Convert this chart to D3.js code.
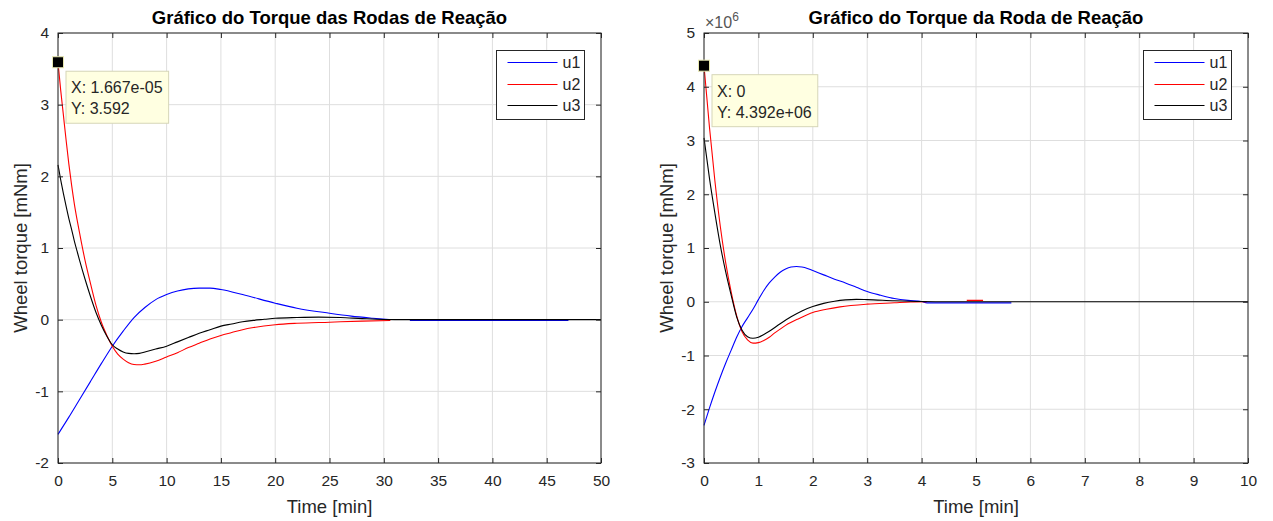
<!DOCTYPE html>
<html>
<head>
<meta charset="utf-8">
<script src="https://cdn.jsdelivr.net/npm/d3@7"></script>
<style>
  body { margin: 0; background: #fff; }
  svg { font-family: "Liberation Sans", Arial, sans-serif; }
</style>
</head>
<body>
<svg id="chart" width="1273" height="521"></svg>
<script>
// ---- data (time in minutes, torque in mNm) ----
const seriesNames = ['u1', 'u2', 'u3'];
const seriesColors = ['#0000ff', '#ff0000', '#000000'];

const leftTitle = 'Gráfico do Torque das Rodas de Reação';
const leftXTicks = [0, 5, 10, 15, 20, 25, 30, 35, 40, 45, 50];
const leftYTicks = [-2, -1, 0, 1, 2, 3, 4];

// null = break in the line
const leftU1 = [[0,-1.6],[1,-1.36],[2,-1.11],[3,-0.86],[4,-0.61],[5,-0.37],[6,-0.16],[7,0.03],[8,0.17],
  [9,0.28],[10,0.35],[11,0.4],[12,0.43],[13,0.44],[14,0.44],[15,0.42],[17,0.35],[20,0.23],[22,0.16],
  [25,0.09],[27,0.05],[29,0.02],[30.5,0.0],[31,null],[32.4,-0.01],[47,-0.01]];
const leftU2 = [[0,3.59],[0.25,3.2],[0.5,2.85],[0.75,2.5],[1,2.17],[1.25,1.88],[1.5,1.62],[1.75,1.4],
  [2,1.2],[2.5,0.82],[3,0.5],[3.5,0.2],[4,-0.04],[4.5,-0.22],[5,-0.37],[5.5,-0.48],[6,-0.55],[6.5,-0.6],
  [7,-0.625],[7.5,-0.63],[8,-0.62],[9,-0.58],[10,-0.52],[11,-0.46],[12,-0.39],[13,-0.33],[14,-0.27],
  [15,-0.22],[16,-0.18],[17,-0.14],[18,-0.11],[20,-0.07],[22,-0.05],[25,-0.035],[28,-0.02],[30.6,-0.012]];
const leftU3 = [[0,2.16],[0.25,1.95],[0.5,1.76],[0.75,1.58],[1,1.41],[1.25,1.26],[1.5,1.1],[1.75,0.96],
  [2,0.82],[2.5,0.56],[3,0.32],[3.5,0.1],[4,-0.08],[4.5,-0.23],[5,-0.35],[5.5,-0.41],[6,-0.45],
  [6.5,-0.47],[7,-0.475],[7.5,-0.47],[8,-0.45],[9,-0.41],[10,-0.37],[11,-0.31],[12,-0.25],[13,-0.19],
  [14,-0.14],[15,-0.09],[16,-0.06],[17,-0.03],[18,-0.01],[19,0.005],[20,0.02],[22,0.03],[24,0.035],
  [26,0.03],[28,0.015],[30,0.003],[32,0],[50,0]];
const leftTip = {x: 1.667e-05, y: 3.592, xText: '1.667e-05', yText: '3.592'};

const rightTitle = 'Gráfico do Torque da Roda de Reação';
const rightXTicks = [0, 1, 2, 3, 4, 5, 6, 7, 8, 9, 10];
const rightYTicks = [-3, -2, -1, 0, 1, 2, 3, 4, 5];   // x 10^6

const rightU1 = [[0,-2.3],[0.1,-1.98],[0.2,-1.68],[0.3,-1.4],[0.4,-1.14],[0.5,-0.9],[0.6,-0.66],
  [0.7,-0.46],[0.8,-0.3],[0.9,-0.14],[1.0,0.04],[1.1,0.21],[1.2,0.35],[1.3,0.46],[1.4,0.55],[1.5,0.61],
  [1.6,0.645],[1.7,0.655],[1.8,0.645],[1.9,0.62],[2.0,0.58],[2.2,0.5],[2.4,0.42],[2.6,0.35],[2.8,0.27],
  [3.0,0.19],[3.25,0.12],[3.5,0.06],[3.75,0.025],[4.0,0.005],[4.1,-0.02],[5.65,-0.02]];
const rightU2 = [[0,4.392],[0.1,3.25],[0.2,2.25],[0.3,1.4],[0.4,0.72],[0.5,0.18],[0.6,-0.26],[0.7,-0.56],
  [0.8,-0.71],[0.9,-0.77],[1.0,-0.76],[1.1,-0.72],[1.2,-0.66],[1.3,-0.58],[1.4,-0.51],[1.5,-0.44],
  [1.75,-0.31],[2.0,-0.2],[2.25,-0.14],[2.5,-0.095],[3.0,-0.045],[3.5,-0.02],[3.8,-0.005],[4.1,0],
  [4.4,null],[4.83,0.025],[5.13,0.025]];
const rightU3 = [[0,3.05],[0.1,2.3],[0.2,1.65],[0.3,1.05],[0.4,0.55],[0.5,0.12],[0.6,-0.28],[0.7,-0.53],
  [0.8,-0.65],[0.9,-0.68],[1.0,-0.66],[1.1,-0.61],[1.2,-0.55],[1.4,-0.41],[1.6,-0.28],[1.8,-0.17],
  [2.0,-0.09],[2.2,-0.03],[2.4,0.01],[2.6,0.035],[2.8,0.045],[3.0,0.04],[3.5,0.02],[4.0,0.005],[4.5,0],[10,0]];
const rightTip = {x: 0, y: 4.392, xText: '0', yText: '4.392e+06'};


class TorquePlot {

  constructor(_config, _series) {
    this.config = {
      parentElement: _config.parentElement,
      left: _config.left,
      top: _config.top,
      width: _config.width,
      height: _config.height,
      title: _config.title,
      xDomain: _config.xDomain,
      yDomain: _config.yDomain,
      xTicks: _config.xTicks,
      yTicks: _config.yTicks,
      tip: _config.tip,
      exponent: _config.exponent
    };
    this.series = _series;
    this.initVis();
  }

  initVis() {
    let vis = this;
    const c = vis.config;

    vis.xScale = d3.scaleLinear().domain(c.xDomain).range([0, c.width]);
    vis.yScale = d3.scaleLinear().domain(c.yDomain).range([c.height, 0]);

    vis.chart = d3.select(c.parentElement).append('g')
      .attr('transform', `translate(${c.left},${c.top})`);

    // white plot area + grid
    vis.chart.append('rect')
      .attr('width', c.width).attr('height', c.height)
      .attr('fill', '#fff');

    vis.chart.append('g').selectAll('line')
      .data(c.xTicks)
      .join('line')
        .attr('x1', d => vis.xScale(d)).attr('x2', d => vis.xScale(d))
        .attr('y1', 0).attr('y2', c.height)
        .attr('stroke', '#dedede');
    vis.chart.append('g').selectAll('line')
      .data(c.yTicks)
      .join('line')
        .attr('y1', d => vis.yScale(d)).attr('y2', d => vis.yScale(d))
        .attr('x1', 0).attr('x2', c.width)
        .attr('stroke', '#dedede');

    vis.renderVis();
  }

  renderVis() {
    let vis = this;
    const c = vis.config;

    const line = d3.line()
      .defined(d => d[1] !== null)
      .x(d => vis.xScale(d[0]))
      .y(d => vis.yScale(d[1]))
      .curve(d3.curveMonotoneX);

    vis.chart.append('g').selectAll('path')
      .data(vis.series)
      .join('path')
        .attr('d', d => line(d.values))
        .attr('fill', 'none')
        .attr('stroke', d => d.color)
        .attr('stroke-width', 1.1);

    // axes, ticks pointing inwards on all four sides
    const axisColor = '#262626';
    const fmt = d => String(d);
    const xAxis = d3.axisBottom(vis.xScale).tickValues(c.xTicks).tickFormat(fmt)
      .tickSizeInner(-5).tickSizeOuter(0).tickPadding(12);
    const yAxis = d3.axisLeft(vis.yScale).tickValues(c.yTicks).tickFormat(fmt)
      .tickSizeInner(-5).tickSizeOuter(0).tickPadding(9);
    const xTop = d3.axisTop(vis.xScale).tickValues(c.xTicks)
      .tickSizeInner(-5).tickSizeOuter(0).tickFormat('');
    const yRight = d3.axisRight(vis.yScale).tickValues(c.yTicks)
      .tickSizeInner(-5).tickSizeOuter(0).tickFormat('');

    const gx = vis.chart.append('g').attr('transform', `translate(0,${c.height})`).call(xAxis);
    const gy = vis.chart.append('g').call(yAxis);
    const gt = vis.chart.append('g').call(xTop);
    const gr = vis.chart.append('g').attr('transform', `translate(${c.width},0)`).call(yRight);
    [gx, gy, gt, gr].forEach(g => {
      g.select('.domain').remove();
      g.selectAll('line').attr('stroke', axisColor);
      g.selectAll('text').attr('fill', axisColor).attr('font-size', 15.5)
        .attr('font-family', '"Liberation Sans", Arial, sans-serif');
    });

    vis.chart.append('rect')
      .attr('width', c.width).attr('height', c.height)
      .attr('fill', 'none').attr('stroke', axisColor).attr('stroke-width', 1);

    // title and labels
    vis.chart.append('text')
      .attr('x', c.width / 2).attr('y', -9)
      .attr('text-anchor', 'middle')
      .attr('font-size', 18.5).attr('font-weight', 'bold')
      .attr('fill', '#000')
      .text(c.title);

    vis.chart.append('text')
      .attr('x', c.width / 2).attr('y', c.height + 50)
      .attr('text-anchor', 'middle')
      .attr('font-size', 18.5).attr('fill', axisColor)
      .text('Time [min]');

    vis.chart.append('text')
      .attr('transform', `translate(-31,${c.height / 2}) rotate(-90)`)
      .attr('text-anchor', 'middle')
      .attr('font-size', 18.5).attr('fill', axisColor)
      .text('Wheel torque [mNm]');

    if (c.exponent) {
      const ex = vis.chart.append('text')
        .attr('x', 1).attr('y', -5)
        .attr('font-size', 16).attr('fill', '#555');
      ex.append('tspan').text('\u00d710');
      ex.append('tspan').attr('dy', -7).attr('font-size', 12).text(c.exponent);
    }

    // legend
    const lg = vis.chart.append('g')
      .attr('transform', `translate(${c.width - 104.5},17.5)`);
    lg.append('rect')
      .attr('width', 88).attr('height', 69)
      .attr('fill', '#fff').attr('stroke', axisColor);
    lg.selectAll('g')
      .data(vis.series)
      .join('g')
        .attr('transform', (d, i) => `translate(0,${12 + Math.round(i * 21.5)})`)
        .each(function(d) {
          const g = d3.select(this);
          g.append('line').attr('x1', 11).attr('x2', 61)
            .attr('stroke', d.color).attr('stroke-width', 1.1);
          g.append('text').attr('x', 66).attr('y', 5.5)
            .attr('font-size', 16).attr('fill', axisColor).text(d.name);
        });

    // data tip
    const tip = c.tip;
    const px = vis.xScale(tip.x), py = vis.yScale(tip.y);
    const tg = vis.chart.append('g').attr('transform', `translate(${px + 8},${py + 9})`);
    const box = tg.append('rect').attr('height', 52)
      .attr('fill', '#ffffe1').attr('stroke', '#d6d6b8');
    const t1 = tg.append('text').attr('x', 5).attr('y', 22)
      .attr('font-size', 16).attr('fill', axisColor).text('X: ' + tip.xText);
    const t2 = tg.append('text').attr('x', 5).attr('y', 43)
      .attr('font-size', 16).attr('fill', axisColor).text('Y: ' + tip.yText);
    const w = Math.max(t1.node().getComputedTextLength(), t2.node().getComputedTextLength());
    box.attr('width', w + 11);
    vis.chart.append('rect')
      .attr('x', px - 5.5).attr('y', py - 5.5)
      .attr('width', 11).attr('height', 11)
      .attr('fill', '#000').attr('stroke', '#e8e8b0');
  }
}

const makeSeries = arrs => arrs.map((values, i) => ({name: seriesNames[i], color: seriesColors[i], values}));

new TorquePlot({
  parentElement: '#chart', left: 58, top: 33, width: 543, height: 430,
  title: leftTitle, xDomain: [0, 50], yDomain: [-2, 4],
  xTicks: leftXTicks, yTicks: leftYTicks, tip: leftTip
}, makeSeries([leftU1, leftU2, leftU3]));

new TorquePlot({
  parentElement: '#chart', left: 704, top: 33, width: 544, height: 430,
  title: rightTitle, xDomain: [0, 10], yDomain: [-3, 5],
  xTicks: rightXTicks, yTicks: rightYTicks, tip: rightTip, exponent: '6'
}, makeSeries([rightU1, rightU2, rightU3]));
</script>
</body>
</html>
